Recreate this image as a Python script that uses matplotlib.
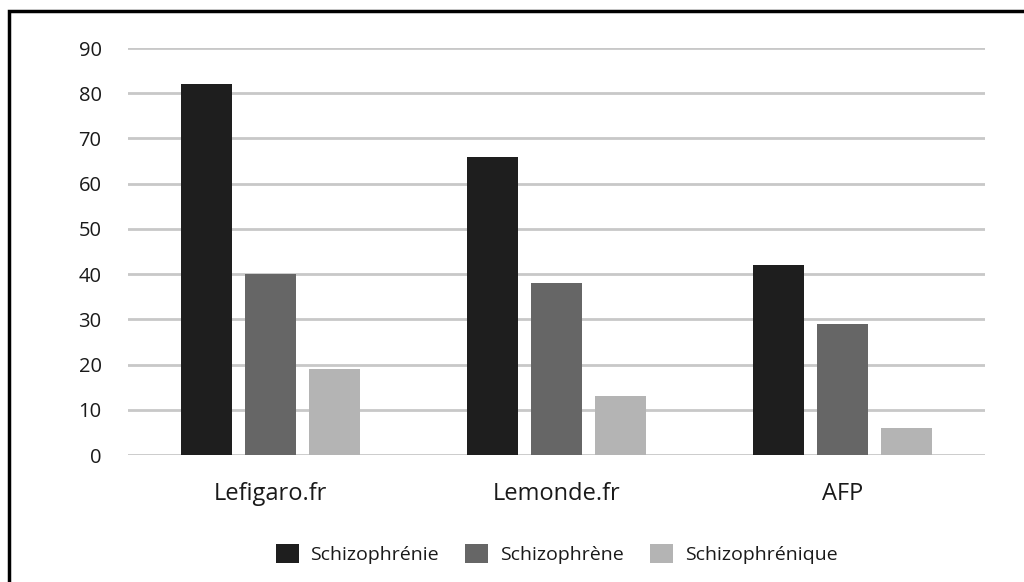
import matplotlib.pyplot as plt
import numpy as np
from matplotlib.patches import Rectangle

sources = ["Lefigaro.fr", "Lemonde.fr", "AFP"]
series = ["Schizophrénie", "Schizophrène", "Schizophrénique"]
schizophrenie = [82, 66, 42]
schizophrene = [40, 38, 29]
schizophrenique = [19, 13, 6]
colors = ["#1e1e1e", "#666666", "#b4b4b4"]

plt.rcParams["font.family"] = ["Open Sans", "DejaVu Sans"]

fig = plt.figure(figsize=(10.24, 5.82), dpi=100)
ax = fig.add_axes([0.125, 0.218, 0.837, 0.6995])

x = np.arange(len(sources))
width = 0.178
step = 0.224
values = [schizophrenie, schizophrene, schizophrenique]
for i, (vals, name, c) in enumerate(zip(values, series, colors)):
    ax.bar(x + (i - 1) * step, vals, width, color=c, label=name, zorder=3)

ax.set_xlim(-0.5, 2.5)
ax.set_ylim(0, 90)
ax.set_yticks(range(0, 91, 10))
ax.yaxis.grid(True, color="#c8c8c8", linewidth=2, zorder=0)
ax.set_axisbelow(True)
for s in ax.spines.values():
    s.set_visible(False)
ax.tick_params(axis="both", length=0)
ax.tick_params(axis="y", labelsize=14.5, pad=19, labelcolor="#1a1a1a")
ax.set_xticks(x)
ax.set_xticklabels(sources, fontsize=17, color="#1a1a1a")
ax.tick_params(axis="x", pad=19)

ax.legend(loc="center", bbox_to_anchor=(0.5, -0.243), ncol=3, frameon=False,
          fontsize=14, handlelength=1.18, handleheight=1.13, columnspacing=1.35,
          handletextpad=0.6, labelcolor="#1a1a1a")

fig.patches.append(Rectangle((9 / 1024, -0.1), 1.2, 1 - 11 / 582 + 0.1,
                             transform=fig.transFigure, fill=False,
                             edgecolor="black", linewidth=2.5))

fig.savefig("out.png", dpi=100)
